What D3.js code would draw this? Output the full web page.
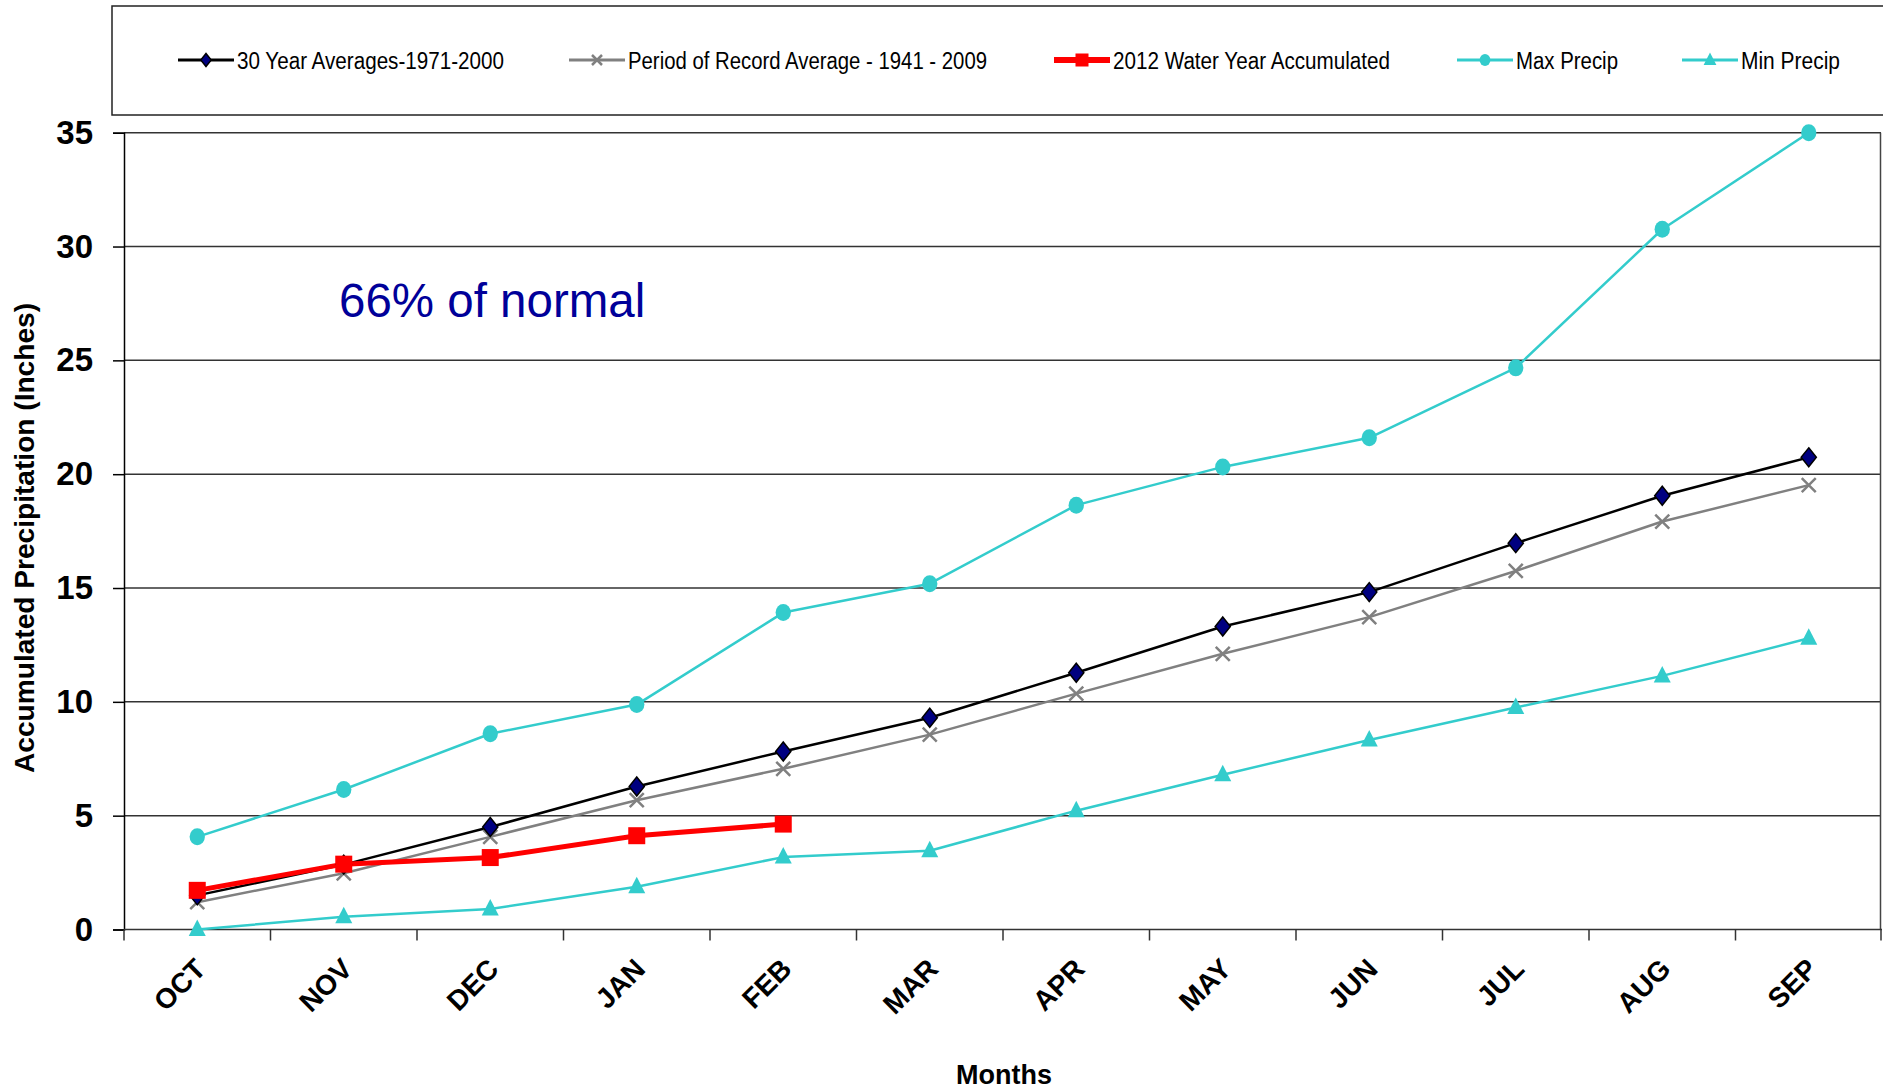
<!DOCTYPE html>
<html>
<head>
<meta charset="utf-8">
<script src="https://cdn.jsdelivr.net/npm/d3@7"></script>
<style>
  html, body { margin: 0; padding: 0; background: #fff; }
  svg { display: block; }
  text { font-family: "Liberation Sans", Arial, sans-serif; }
</style>
</head>
<body>
<svg id="chart" width="1883" height="1090"></svg>
<script>
// ---- Data ----
const months = ["OCT","NOV","DEC","JAN","FEB","MAR","APR","MAY","JUN","JUL","AUG","SEP"];
const avg30 = [1.5, 2.85, 4.5, 6.28, 7.82, 9.3, 11.28, 13.31, 14.82, 16.97, 19.05, 20.74];
const porAvg = [1.2, 2.47, 4.07, 5.68, 7.06, 8.56, 10.36, 12.11, 13.72, 15.75, 17.92, 19.52];
const wy2012 = [1.72, 2.87, 3.16, 4.12, 4.63];
const maxPrecip = [4.07, 6.15, 8.6, 9.88, 13.92, 15.19, 18.64, 20.32, 21.6, 24.67, 30.76, 35.0];
const minPrecip = [0, 0.56, 0.9, 1.88, 3.18, 3.46, 5.22, 6.8, 8.32, 9.75, 11.14, 12.79];
const yTicks = [0, 5, 10, 15, 20, 25, 30, 35];
const seriesNames = ["30 Year Averages-1971-2000", "Period of Record Average - 1941 - 2009",
                     "2012 Water Year Accumulated", "Max Precip", "Min Precip"];
const annotation = "66% of normal";

(function () {
// ---- Layout ----
const svg = d3.select("#chart");
const pLeft = 124, pRight = 1882, pTop = 132.7, pBottom = 929.5;

const x = d3.scaleBand().domain(months).range([pLeft, pRight]);
const y = d3.scaleLinear().domain([0, 35]).range([pBottom, pTop]);
const cx = m => x(m) + x.bandwidth() / 2;

// Legend box
svg.append("rect").attr("x", 112).attr("y", 6).attr("width", 1800).attr("height", 109)
  .attr("fill", "#fff").attr("stroke", "#222").attr("stroke-width", 1.5);

// Gridlines
svg.append("g").selectAll("line").data(yTicks.filter(t => t > 0)).join("line")
  .attr("x1", pLeft).attr("x2", pRight - 1)
  .attr("y1", d => y(d)).attr("y2", d => y(d))
  .attr("stroke", "#333").attr("stroke-width", 1.5);

// Right border of plot area
svg.append("line").attr("x1", pRight - 1.5).attr("x2", pRight - 1.5)
  .attr("y1", pTop).attr("y2", pBottom).attr("stroke", "#444").attr("stroke-width", 1.5);

// Y axis
const yAxis = svg.append("g").attr("transform", `translate(${pLeft},0)`)
  .call(d3.axisLeft(y).tickValues(yTicks).tickSize(11).tickPadding(20));
yAxis.select(".domain").attr("stroke", "#000").attr("stroke-width", 1.5);
yAxis.selectAll(".tick line").attr("stroke", "#000").attr("stroke-width", 1.5);
yAxis.selectAll(".tick text").attr("fill", "#000")
  .style("font-family", '"Liberation Sans", Arial, sans-serif')
  .style("font-weight", "bold").style("font-size", "33px");

// X axis baseline + ticks at category boundaries
svg.append("line").attr("x1", pLeft).attr("x2", pRight).attr("y1", pBottom).attr("y2", pBottom)
  .attr("stroke", "#333").attr("stroke-width", 1.5);
const bounds = months.map(m => x(m)).concat([pRight - 1]);
svg.append("g").selectAll("line").data(bounds).join("line")
  .attr("x1", d => d).attr("x2", d => d).attr("y1", pBottom).attr("y2", pBottom + 11)
  .attr("stroke", "#333").attr("stroke-width", 1.5);

// X tick labels (rotated)
svg.append("g").selectAll("text").data(months).join("text")
  .attr("transform", d => `translate(${cx(d) - 4},${pBottom + 27}) rotate(-45)`)
  .attr("text-anchor", "end").attr("dominant-baseline", "hanging")
  .style("font-weight", "bold").style("font-size", "28px").attr("fill", "#000")
  .text(d => d);

// Axis titles
svg.append("text").attr("x", 1004).attr("y", 1084).attr("text-anchor", "middle")
  .style("font-weight", "bold").style("font-size", "27px").text("Months");
svg.append("text").attr("transform", "translate(34,538) rotate(-90)")
  .attr("text-anchor", "middle")
  .attr("textLength", 470).attr("lengthAdjust", "spacingAndGlyphs")
  .style("font-weight", "bold").style("font-size", "27px").text("Accumulated Precipitation (Inches)");

// Annotation
svg.append("text").attr("x", 339).attr("y", 317).attr("fill", "#000099")
  .style("font-size", "47.5px").text(annotation);

// ---- Series ----
const line = d3.line().x((d, i) => cx(months[i])).y(d => y(d));
const plot = svg.append("g");

function drawLine(data, color, width) {
  plot.append("path").datum(data).attr("d", line)
    .attr("fill", "none").attr("stroke", color).attr("stroke-width", width)
    .attr("stroke-linejoin", "round");
}

function markerDiamond(g, px, py, s) {
  g.append("path").attr("d", `M${px},${py - s}L${px + s * 0.8},${py}L${px},${py + s}L${px - s * 0.8},${py}Z`)
    .attr("fill", "#000080").attr("stroke", "#000").attr("stroke-width", 1.5);
}
function markerX(g, px, py, s) {
  g.append("path").attr("d", `M${px - s},${py - s}L${px + s},${py + s}M${px - s},${py + s}L${px + s},${py - s}`)
    .attr("stroke", "#808080").attr("stroke-width", 2.5).attr("fill", "none");
}
function markerSquare(g, px, py, s) {
  g.append("rect").attr("x", px - s).attr("y", py - s).attr("width", 2 * s).attr("height", 2 * s)
    .attr("fill", "#FF0000");
}
function markerCircle(g, px, py, s) {
  g.append("ellipse").attr("cx", px).attr("cy", py).attr("rx", s * 0.9).attr("ry", s).attr("fill", "#33CCCC");
}
function markerTri(g, px, py, s) {
  g.append("path").attr("d", `M${px},${py - s}L${px + s * 0.85},${py + s * 0.65}L${px - s * 0.85},${py + s * 0.65}Z`)
    .attr("fill", "#33CCCC");
}

drawLine(maxPrecip, "#33CCCC", 2.5);
drawLine(minPrecip, "#33CCCC", 2.5);
drawLine(porAvg, "#808080", 2.5);
drawLine(avg30, "#000", 2.5);
drawLine(wy2012, "#FF0000", 5);

maxPrecip.forEach((v, i) => markerCircle(plot, cx(months[i]), y(v), 8.5));
minPrecip.forEach((v, i) => markerTri(plot, cx(months[i]), y(v), 10));
porAvg.forEach((v, i) => markerX(plot, cx(months[i]), y(v), 7));
avg30.forEach((v, i) => markerDiamond(plot, cx(months[i]), y(v), 9.5));
wy2012.forEach((v, i) => markerSquare(plot, cx(months[i]), y(v), 8.5));

// ---- Legend ----
const legY = 60;
const legStarts = [178, 569, 1054, 1457, 1682];
const legTextLen = [267, 359, 277, 102, 99];
const legStyles = [
  {c: "#000", w: 3, m: markerDiamond, s: 6.5},
  {c: "#808080", w: 3, m: markerX, s: 5},
  {c: "#FF0000", w: 6, m: markerSquare, s: 6.5},
  {c: "#33CCCC", w: 3, m: markerCircle, s: 6},
  {c: "#33CCCC", w: 3, m: markerTri, s: 7.5}
];
const leg = svg.append("g");
seriesNames.forEach((name, i) => {
  const x0 = legStarts[i], st = legStyles[i];
  leg.append("line").attr("x1", x0).attr("x2", x0 + 56).attr("y1", legY).attr("y2", legY)
    .attr("stroke", st.c).attr("stroke-width", st.w);
  st.m(leg, x0 + 28, legY, st.s);
  leg.append("text").attr("x", x0 + 59).attr("y", legY + 8.5)
    .attr("textLength", legTextLen[i]).attr("lengthAdjust", "spacingAndGlyphs")
    .style("font-size", "23.5px").attr("fill", "#000").text(name);
});
})();
</script>
</body>
</html>
